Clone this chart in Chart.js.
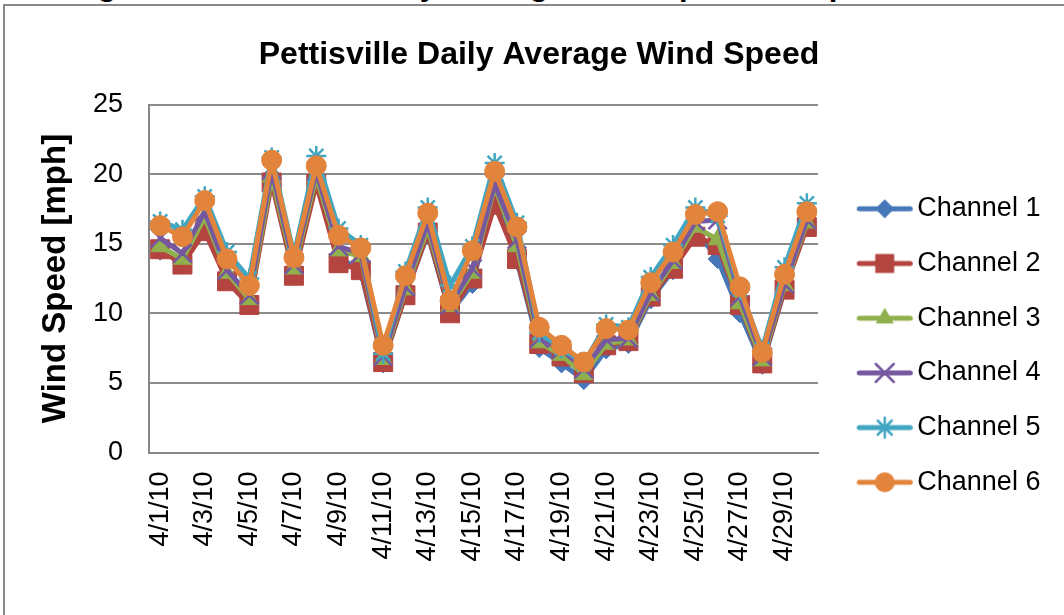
<!DOCTYPE html>
<html>
<head>
<meta charset="utf-8">
<script src="https://cdn.jsdelivr.net/npm/chart.js@4.4.1/dist/chart.umd.min.js"></script>
<style>
  html, body { margin: 0; padding: 0; background: #fff; overflow: hidden; }
  #wrap { position: relative; width: 1064px; height: 615px; overflow: hidden; }
  #frame { position: absolute; left: 3px; top: 4px; width: 1100px; height: 700px; border: 2px solid #888; box-sizing: border-box; }
  #cap { position: absolute; left: 70px; top: -31px; font: bold 31px "Liberation Sans", Arial, sans-serif; line-height: 31px; white-space: nowrap; color: #000; }
  #c { position: absolute; left: 0; top: 0; }
</style>
</head>
<body>
<div id="wrap">
  <div id="cap">Figure 2: Pettisville Daily Average Wind Speed Comparison</div>
  <div id="frame"></div>
  <canvas id="c" width="1078" height="615"></canvas>
</div>
<script>
// days of April 2010
const days = ['4/1/10','4/2/10','4/3/10','4/4/10','4/5/10','4/6/10','4/7/10','4/8/10','4/9/10','4/10/10',
  '4/11/10','4/12/10','4/13/10','4/14/10','4/15/10','4/16/10','4/17/10','4/18/10','4/19/10','4/20/10',
  '4/21/10','4/22/10','4/23/10','4/24/10','4/25/10','4/26/10','4/27/10','4/28/10','4/29/10','4/30/10'];

// daily average wind speed per channel [mph]
const ch1 = [14.5,13.6,16.2,12.4,10.7,19.9,13.0,19.6,14.1,13.0,6.4,11.4,15.7,10.0,12.1,18.6,13.8,7.5,6.4,5.2,7.4,7.8,11.0,13.1,16.0,13.9,10.0,6.3,11.7,16.5];
const ch2 = [14.6,13.5,15.9,12.3,10.6,19.4,12.7,19.3,13.6,13.1,6.5,11.3,15.8,10.0,12.5,17.8,13.9,7.8,6.9,5.7,7.7,8.0,11.2,13.2,15.5,14.9,10.6,6.4,11.7,16.2];
const ch3 = [14.8,13.9,16.9,12.9,11.0,19.8,13.2,19.8,14.5,14.1,6.7,11.7,16.1,10.5,12.9,19.1,14.8,7.9,7.0,5.6,7.8,8.1,11.3,13.6,16.2,15.3,10.7,6.6,12.0,16.5];
const ch4 = [15.4,14.3,17.3,13.1,11.3,20.3,13.5,20.2,14.8,14.3,6.9,11.9,16.5,10.6,13.2,19.3,15.3,8.2,7.4,6.0,8.1,8.2,11.5,13.8,16.6,16.7,11.2,6.9,12.1,16.7];
const ch5 = [16.6,16.0,18.4,14.4,12.5,21.2,14.2,21.3,16.1,14.9,7.1,13.0,17.6,12.0,14.8,20.8,16.5,8.6,7.5,6.4,9.2,9.0,12.6,14.9,17.6,17.0,11.7,7.4,13.3,17.9];
const ch6 = [16.3,15.5,18.1,13.9,12.0,21.0,14.0,20.6,15.6,14.7,7.7,12.7,17.2,10.9,14.5,20.2,16.2,9.0,7.7,6.5,8.9,8.8,12.2,14.4,17.1,17.3,11.9,7.2,12.8,17.3];

const yTicks = [0, 5, 10, 15, 20, 25];

const FONT = '"Liberation Sans", Arial, sans-serif';

const series = [
  { label: 'Channel 1', data: ch1, color: '#4677B8', style: 'rectRot',  r: 9.5,  bw: 1 },
  { label: 'Channel 2', data: ch2, color: '#B4443F', style: 'rect',     r: 13.4, bw: 1 },
  { label: 'Channel 3', data: ch3, color: '#8FB04C', style: 'triangle', r: 10.5, bw: 1 },
  { label: 'Channel 4', data: ch4, color: '#7558A0', style: 'crossRot', r: 13,   bw: 2.5 },
  { label: 'Channel 5', data: ch5, color: '#40A6C2', style: 'star',     r: 10,   bw: 2.5 },
  { label: 'Channel 6', data: ch6, color: '#E2843B', style: 'circle',   r: 10,   bw: 1 }
];

// little line + marker pictures for the legend
function legendIcon(s) {
  const cv = document.createElement('canvas');
  cv.width = 80; cv.height = 30;
  const ctx = cv.getContext('2d');
  const cx = 50, cy = 15;
  ctx.strokeStyle = s.color; ctx.fillStyle = s.color;
  ctx.lineWidth = 5; ctx.lineCap = 'round';
  ctx.beginPath(); ctx.moveTo(24.5, cy); ctx.lineTo(75.5, cy); ctx.stroke();
  ctx.lineWidth = s.bw;
  ctx.beginPath();
  if (s.style === 'rectRot') {
    ctx.moveTo(cx - 9.5, cy); ctx.lineTo(cx, cy - 9.5); ctx.lineTo(cx + 9.5, cy); ctx.lineTo(cx, cy + 9.5); ctx.closePath();
    ctx.fill();
  } else if (s.style === 'rect') {
    ctx.rect(cx - 9.5, cy - 9.5, 19, 19); ctx.fill();
  } else if (s.style === 'triangle') {
    ctx.moveTo(cx, cy - 10.5); ctx.lineTo(cx + 9.1, cy + 5.25); ctx.lineTo(cx - 9.1, cy + 5.25); ctx.closePath(); ctx.fill();
  } else if (s.style === 'crossRot') {
    ctx.moveTo(cx - 9, cy - 9); ctx.lineTo(cx + 9, cy + 9); ctx.moveTo(cx + 9, cy - 9); ctx.lineTo(cx - 9, cy + 9); ctx.stroke();
  } else if (s.style === 'star') {
    ctx.moveTo(cx - 7, cy - 7); ctx.lineTo(cx + 7, cy + 7); ctx.moveTo(cx + 7, cy - 7); ctx.lineTo(cx - 7, cy + 7);
    ctx.moveTo(cx, cy - 10); ctx.lineTo(cx, cy + 10); ctx.stroke();
  } else {
    ctx.arc(cx, cy, 10, 0, Math.PI * 2); ctx.fill();
  }
  return cv;
}
const legendIcons = series.map(legendIcon);

// keep the legend box a fixed width so the plot ends where the original does
const legendWidth = {
  id: 'legendWidth',
  beforeLayout(chart) {
    const lg = chart.legend;
    if (lg && !lg._fixedWidth) {
      const fit = lg.fit;
      lg.fit = function () { fit.call(this); this.width = 260; };
      lg._fixedWidth = true;
    }
  }
};

new Chart(document.getElementById('c'), {
  type: 'line',
  data: {
    labels: days,
    datasets: series.map((s, i) => ({
      label: s.label,
      data: s.data,
      borderColor: s.color,
      backgroundColor: s.color,
      borderWidth: 5,
      borderJoinStyle: 'round',
      borderCapStyle: 'round',
      tension: 0,
      fill: false,
      pointStyle: s.style,
      pointRadius: s.r,
      pointHoverRadius: s.r,
      pointBackgroundColor: s.color,
      pointBorderColor: s.color,
      pointBorderWidth: s.bw,
      order: series.length - i // last channel on top, like the original
    }))
  },
  options: {
    responsive: false,
    animation: false,
    layout: { padding: 0 },
    plugins: {
      title: {
        display: true,
        text: 'Pettisville Daily Average Wind Speed',
        color: '#000',
        font: { family: FONT, size: 32, weight: 'bold', lineHeight: 1.2 },
        padding: { top: 35.5, bottom: 30.6 }
      },
      legend: {
        position: 'right',
        align: 'start',
        fullSize: true,
        title: { display: true, text: '', font: { size: 10, lineHeight: 1.2 }, padding: { top: 155.6, bottom: 0 } },
        labels: {
          usePointStyle: true,
          pointStyleWidth: 58.1,
          padding: 27.7,
          color: '#000',
          font: { family: FONT, size: 27 },
          generateLabels(chart) {
            return chart.data.datasets.map((ds, i) => ({
              text: ds.label,
              pointStyle: legendIcons[i],
              fillStyle: ds.borderColor,
              strokeStyle: ds.borderColor,
              lineWidth: 0,
              fontColor: '#000',
              hidden: false,
              datasetIndex: i
            }));
          }
        }
      },
      tooltip: { enabled: false }
    },
    scales: {
      x: {
        offset: true,
        grid: { display: false, drawTicks: false },
        border: { display: true, color: '#868686', width: 2 },
        ticks: {
          autoSkip: false,
          minRotation: 90,
          maxRotation: 90,
          padding: 19,
          color: '#000',
          font: { family: FONT, size: 27 },
          callback(v, i) { return i % 2 === 0 ? this.getLabelForValue(v) : ''; }
        },
        afterFit(s) { s.height = 162.5; }
      },
      y: {
        min: yTicks[0],
        max: yTicks[yTicks.length - 1],
        afterBuildTicks(s) { s.ticks = yTicks.map(v => ({ value: v })); },
        ticks: { padding: 26, color: '#000', font: { family: FONT, size: 27 } },
        grid: { color: '#8C8C8C', lineWidth: 2, drawTicks: false },
        border: { display: true, color: '#868686', width: 2 },
        title: {
          display: true,
          text: 'Wind Speed [mph]',
          color: '#000',
          font: { family: FONT, size: 33, weight: 'bold', lineHeight: 1.2 },
          padding: { top: 36, bottom: 0 }
        },
        afterFit(s) { s.width = 149; }
      }
    }
  },
  plugins: [legendWidth]
});
</script>
</body>
</html>
